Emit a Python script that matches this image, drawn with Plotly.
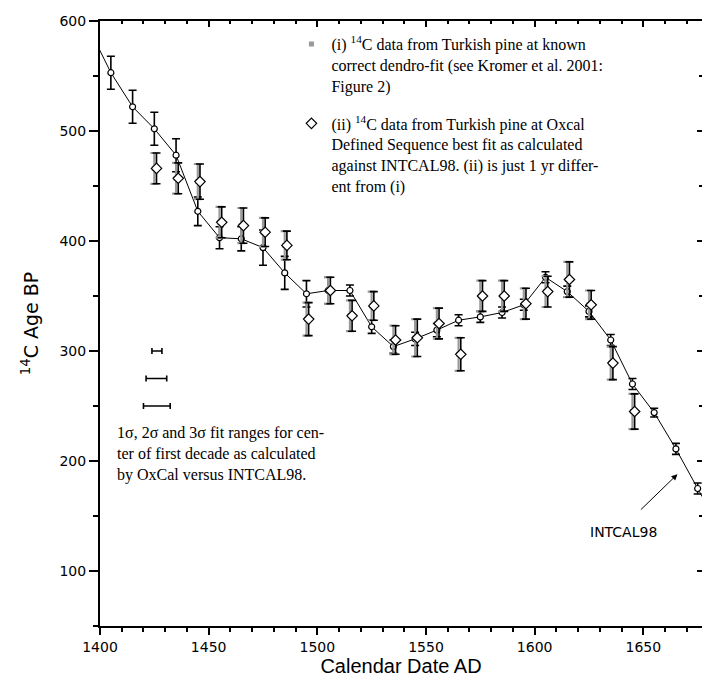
import plotly.graph_objects as go

# INTCAL98 curve (decadal points, 14C age BP, 1-sigma)
intcal_years = [1395, 1405, 1415, 1425, 1435, 1445, 1455, 1465, 1475, 1485,
                1495, 1505, 1515, 1525, 1535, 1545, 1555, 1565, 1575, 1585,
                1595, 1605, 1615, 1625, 1635, 1645, 1655, 1665, 1675, 1685]
intcal_age = [593, 553, 522, 502, 478, 427, 403, 402, 394, 371,
              352, 355, 355, 322, 304, 311, 319, 328, 331, 335,
              342, 367, 354, 336, 310, 270, 244, 211, 175, 140]
intcal_err = [15, 15, 15, 15, 15, 13, 10, 11, 16, 15,
              12, 12, 5, 6, 6, 6, 6, 5, 5, 5,
              5, 5, 5, 5, 5, 5, 4, 5, 5, 5]

# (i) Turkish pine at known dendro-fit
pine_i_years = [1425, 1435, 1445, 1455, 1465, 1475, 1485, 1495, 1505, 1515,
                1525, 1535, 1545, 1555, 1565, 1575, 1585, 1595, 1605, 1615,
                1625, 1635, 1645]
# (ii) Turkish pine at OxCal best fit (1 yr different)
pine_ii_years = [1426, 1436, 1446, 1456, 1466, 1476, 1486, 1496, 1506, 1516,
                 1526, 1536, 1546, 1556, 1566, 1576, 1586, 1596, 1606, 1616,
                 1626, 1636, 1646]
pine_age = [466, 457, 454, 417, 414, 408, 396, 329, 355, 332,
            341, 310, 312, 325, 297, 350, 350, 343, 354, 365,
            342, 289, 245]
pine_err = [14, 14, 16, 14, 16, 13, 13, 15, 12, 14,
            13, 13, 17, 14, 15, 14, 14, 14, 14, 16,
            13, 15, 16]

# 1, 2, 3 sigma fit ranges for centre of first decade
sigma_center = [1426.2, 1426.2, 1426.2]
sigma_age = [300, 275, 250]
sigma_minus = [2.3, 5.0, 6.2]
sigma_plus = [2.3, 4.5, 6.1]

X_RANGE = [1400, 1677]
Y_RANGE = [50, 600]

serif = "Liberation Serif"
sans = "DejaVu Sans"

fig = go.Figure()

fig.add_trace(go.Scatter(
    x=intcal_years, y=intcal_age, mode="lines+markers",
    line=dict(color="black", width=1),
    marker=dict(symbol="circle", size=6, color="white",
                line=dict(color="black", width=1.2)),
    error_y=dict(type="data", array=intcal_err, color="black",
                 thickness=1.6, width=4),
    showlegend=False, hoverinfo="skip"))

fig.add_trace(go.Scatter(
    x=pine_i_years, y=pine_age, mode="markers",
    name="(i) <sup>14</sup>C data from Turkish pine at known<br>correct dendro-fit (see Kromer et al. 2001:<br>Figure 2)",
    legendgroup="i",
    marker=dict(symbol="square", size=5, color="#999999",
                line=dict(color="#999999", width=0)),
    error_y=dict(type="data", array=pine_err, color="#9a9a9a",
                 thickness=2.2, width=4),
    hoverinfo="skip"))

fig.add_trace(go.Scatter(
    x=pine_ii_years, y=pine_age, mode="markers",
    name="(ii) <sup>14</sup>C data from Turkish pine at Oxcal<br>Defined Sequence best fit as calculated<br>against INTCAL98. (ii) is just 1 yr differ-<br>ent from (i)",
    legendgroup="ii",
    marker=dict(symbol="diamond", size=8, color="white",
                line=dict(color="black", width=1.2)),
    error_y=dict(type="data", array=pine_err, color="black",
                 thickness=1.6, width=4),
    hoverinfo="skip"))

fig.add_trace(go.Scatter(
    x=sigma_center, y=sigma_age, mode="markers",
    marker=dict(size=1, color="rgba(0,0,0,0)"),
    error_x=dict(type="data", array=sigma_plus, arrayminus=sigma_minus,
                 symmetric=False, color="black", thickness=1.6, width=3),
    showlegend=False, hoverinfo="skip"))

# mirror axes (top / right) with inside ticks
fig.add_trace(go.Scatter(x=[None], y=[None], xaxis="x2", yaxis="y2",
                         showlegend=False, hoverinfo="skip"))

fig.add_annotation(
    x=1407, y=206, xref="x", yref="y", xanchor="left", yanchor="middle",
    align="left", showarrow=False,
    text="1σ, 2σ and 3σ fit ranges for cen-<br>ter of first decade as calculated<br>by OxCal versus INTCAL98.",
    font=dict(family=serif, size=16, color="black"))

fig.add_annotation(
    x=1665.7, y=188, ax=1648.2, ay=154.5, xref="x", yref="y",
    axref="x", ayref="y", text="", showarrow=True,
    arrowhead=2, arrowsize=1.2, arrowwidth=1, arrowcolor="black")

fig.add_annotation(
    x=1640.8, y=135.5, xref="x", yref="y", text="INTCAL98",
    showarrow=False, font=dict(family=sans, size=14, color="black"))

axis_common = dict(showgrid=False, zeroline=False, linecolor="black",
                   automargin=False)

fig.update_layout(
    width=702, height=691,
    margin=dict(l=100, r=0, t=21, b=65, autoexpand=False),
    paper_bgcolor="white", plot_bgcolor="white",
    xaxis=dict(**axis_common, range=X_RANGE, showline=True, linewidth=2,
               tick0=1400, dtick=50, ticks="outside", ticklen=7,
               tickwidth=1.5, tickcolor="black",
               minor=dict(dtick=10, ticks="outside", ticklen=4,
                          tickwidth=1.5, tickcolor="black", showgrid=False),
               tickfont=dict(family=sans, size=14, color="black"),
               title=dict(text="Calendar Date AD", standoff=4,
                          font=dict(family="Liberation Sans", size=20,
                                    color="black"))),
    yaxis=dict(**axis_common, range=Y_RANGE, showline=True, linewidth=2,
               tick0=0, dtick=100, ticks="outside", ticklen=9,
               tickwidth=1.5, tickcolor="black",
               minor=dict(dtick=50, ticks="outside", ticklen=5,
                          tickwidth=1.5, tickcolor="black", showgrid=False),
               tickfont=dict(family=sans, size=14, color="black"),
               title=dict(text="<sup>14</sup>C Age BP", standoff=16,
                          font=dict(family=sans, size=19, color="black"))),
    xaxis2=dict(**axis_common, range=X_RANGE, overlaying="x", side="top",
                showline=True, linewidth=1.5, tick0=1400, dtick=50,
                ticks="inside", ticklen=6, tickwidth=1.5, tickcolor="black",
                minor=dict(dtick=10, ticks="inside", ticklen=3,
                           tickwidth=1.5, tickcolor="black", showgrid=False),
                showticklabels=False),
    yaxis2=dict(**axis_common, range=Y_RANGE, overlaying="y", side="right",
                showline=True, linewidth=1.5, tick0=0, dtick=100,
                ticks="inside", ticklen=5, tickwidth=1.5, tickcolor="black",
                minor=dict(dtick=50, ticks="inside", ticklen=3,
                           tickwidth=1.5, tickcolor="black", showgrid=False),
                showticklabels=False),
    legend=dict(x=0.318, y=0.99, xanchor="left", yanchor="top",
                bgcolor="rgba(0,0,0,0)", valign="top",
                traceorder="grouped", tracegroupgap=14,
                font=dict(family=serif, size=16, color="black")),
)

fig.write_html("out.html",
               config={"displayModeBar": False},
               post_script="document.body.style.margin='0';")
